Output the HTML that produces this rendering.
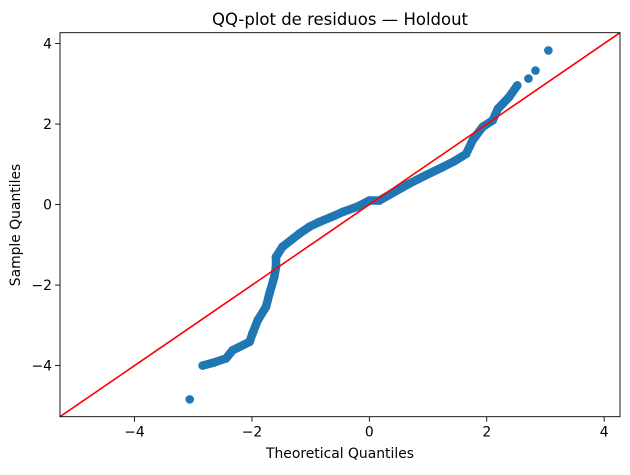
<!DOCTYPE html>
<html><head><meta charset="utf-8"><style>
body{margin:0;background:#fff;}
svg text{font-family:"DejaVu Sans","Liberation Sans",sans-serif;fill:#000;}
</style></head><body>
<svg width="630" height="470" xmlns="http://www.w3.org/2000/svg">
<g id="marks"></g>
<line id="refline" stroke="#ff0000" stroke-width="1.6"/>
<rect x="60" y="32.7" width="560" height="384" fill="none" stroke="#000" stroke-width="0.9"/>
<g id="xticks"></g><g id="yticks"></g>
<text x="340" y="25" font-size="16.5" text-anchor="middle">QQ-plot de residuos — Holdout</text>
<text x="340" y="458" font-size="13.9" text-anchor="middle">Theoretical Quantiles</text>
<text x="20" y="225" font-size="13.9" text-anchor="middle" transform="rotate(-90 20 225)">Sample Quantiles</text>
</svg>
<script>
const theoretical=[-3.06,-2.84,-2.66,-2.44,-2.33,-2.04,-1.99,-1.90,-1.76,-1.70,-1.62,-1.59,-1.59,-1.48,-1.19,-1.02,-0.85,-0.6,-0.45,-0.2,0,0.17,0.35,0.68,0.95,1.25,1.45,1.65,1.76,1.93,2.10,2.19,2.38,2.52,2.71,2.83,3.05];
const sample=[-4.84,-4.0,-3.93,-3.82,-3.62,-3.41,-3.2,-2.87,-2.54,-2.2,-1.80,-1.55,-1.30,-1.05,-0.72,-0.55,-0.43,-0.28,-0.18,-0.05,0.1,0.1,0.25,0.52,0.72,0.93,1.08,1.26,1.6,1.93,2.09,2.38,2.67,2.96,3.13,3.33,3.83];
const xTicks=[-4,-2,0,2,4];
const yTicks=[-4,-2,0,2,4];
const dom=[-5.27,4.27];
const NS='http://www.w3.org/2000/svg';
const L=60,R=620,T=32.7,B=416.7;
const xs=v=>L+(v-dom[0])/(dom[1]-dom[0])*(R-L);
const ys=v=>B-(v-dom[0])/(dom[1]-dom[0])*(B-T);
const marks=document.getElementById('marks');
const n=theoretical.length;
for(let i=2;i<n-3;i++){
  const l=document.createElementNS(NS,'line');
  l.setAttribute('x1',xs(theoretical[i-1]));l.setAttribute('y1',ys(sample[i-1]));
  l.setAttribute('x2',xs(theoretical[i]));l.setAttribute('y2',ys(sample[i]));
  l.setAttribute('stroke','#1f77b4');l.setAttribute('stroke-width','8.5');l.setAttribute('stroke-linecap','round');
  
  
  marks.appendChild(l);
}
theoretical.forEach((t,i)=>{
  const c=document.createElementNS(NS,'circle');
  c.setAttribute('cx',xs(t));c.setAttribute('cy',ys(sample[i]));c.setAttribute('r','4.3');c.setAttribute('fill','#1f77b4');
  
  
  marks.appendChild(c);
});
const rl=document.getElementById('refline');
rl.setAttribute('x1',xs(dom[0]));rl.setAttribute('y1',ys(dom[0]));rl.setAttribute('x2',xs(dom[1]));rl.setAttribute('y2',ys(dom[1]));
const fmt=v=>v<0?'\u2212'+(-v):''+v;
const xg=document.getElementById('xticks');
xTicks.forEach(v=>{
  const x=xs(v);
  const l=document.createElementNS(NS,'line');
  l.setAttribute('x1',x);l.setAttribute('x2',x);l.setAttribute('y1',B);l.setAttribute('y2',B+4.9);l.setAttribute('stroke','#000');l.setAttribute('stroke-width','0.9');
  
  
  xg.appendChild(l);
  const t=document.createElementNS(NS,'text');
  t.setAttribute('x',x);t.setAttribute('y',B+20);t.setAttribute('font-size','13.9');t.setAttribute('text-anchor','middle');t.textContent=fmt(v);
  
  
  xg.appendChild(t);
});
const yg=document.getElementById('yticks');
yTicks.forEach(v=>{
  const y=ys(v);
  const l=document.createElementNS(NS,'line');
  l.setAttribute('x1',L-4.9);l.setAttribute('x2',L);l.setAttribute('y1',y);l.setAttribute('y2',y);l.setAttribute('stroke','#000');l.setAttribute('stroke-width','0.9');
  
  
  yg.appendChild(l);
  const t=document.createElementNS(NS,'text');
  t.setAttribute('x',L-8);t.setAttribute('y',y+5);t.setAttribute('font-size','13.9');t.setAttribute('text-anchor','end');t.textContent=fmt(v);
  
  
  yg.appendChild(t);
});
</script>
</body></html>
